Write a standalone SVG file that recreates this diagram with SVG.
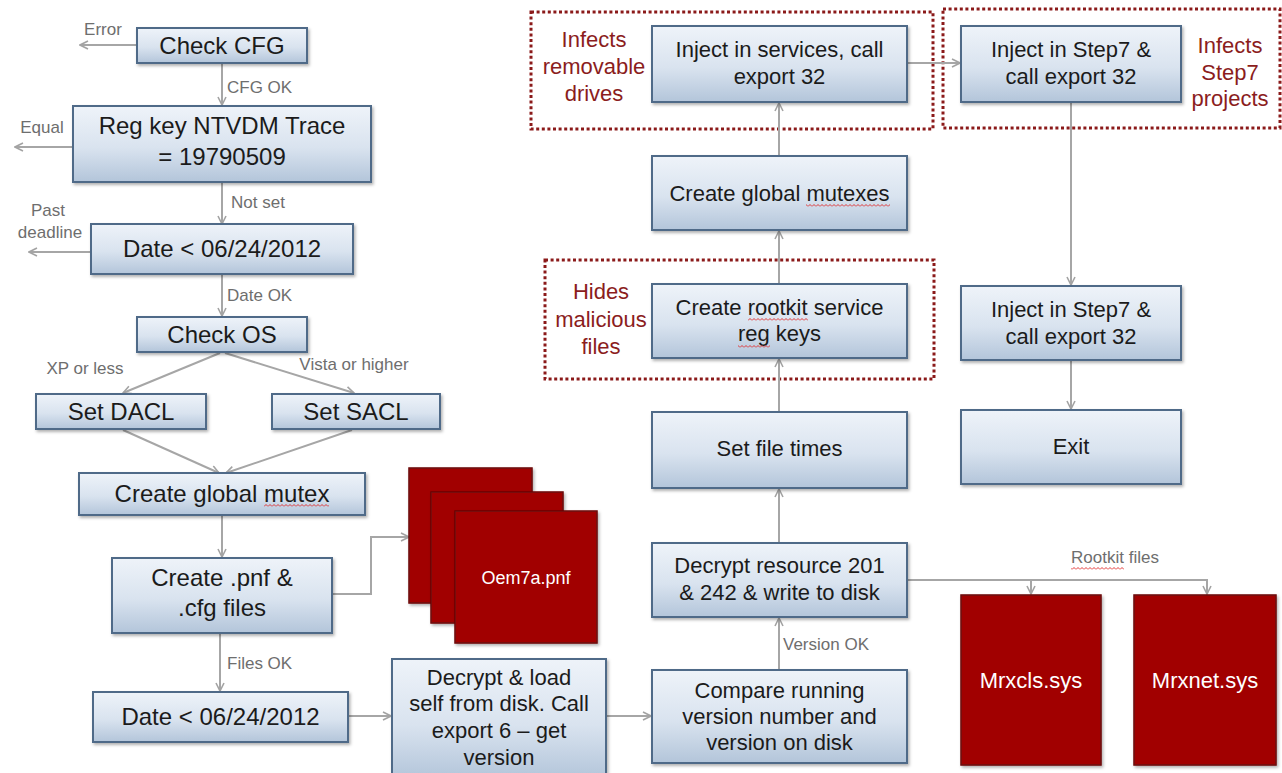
<svg xmlns="http://www.w3.org/2000/svg" width="1282" height="773" viewBox="0 0 1282 773">
<defs>
<linearGradient id="bg" x1="0" y1="0" x2="0" y2="1">
<stop offset="0" stop-color="#eef3f9"/>
<stop offset="0.55" stop-color="#d9e3ef"/>
<stop offset="1" stop-color="#b3c5da"/>
</linearGradient>
<filter id="sh" x="-10%" y="-10%" width="130%" height="140%">
<feDropShadow dx="1.5" dy="2" stdDeviation="1.5" flood-color="#000" flood-opacity="0.3"/>
</filter>
<marker id="arr" viewBox="0 0 10 10" refX="9" refY="5" markerWidth="10" markerHeight="10" markerUnits="userSpaceOnUse" orient="auto">
<path d="M1,1 L9,5 L1,9" fill="none" stroke="#a3a3a3" stroke-width="1.6"/>
</marker>
<pattern id="wavy" patternUnits="userSpaceOnUse" width="4" height="3">
<path d="M0,2.5 L2,0.5 L4,2.5" fill="none" stroke="#e02424" stroke-width="0.9"/>
</pattern>
<style>
.box{fill:url(#bg);stroke:#4f6a88;stroke-width:2;filter:url(#sh)}
.red{fill:#a10404;stroke:#6a0808;stroke-width:1.5;filter:url(#sh)}
.t{font-family:"Liberation Sans",Arial,sans-serif;fill:#1b1b1b;text-anchor:middle}
.l{font-size:24px}
.r{font-size:22px}
.w{font-family:"Liberation Sans",Arial,sans-serif;fill:#ffffff;text-anchor:middle}
.lab{font-family:"Liberation Sans",Arial,sans-serif;font-size:17px;fill:#6e6e6e}
.ann{font-family:"Liberation Sans",Arial,sans-serif;font-size:22px;fill:#8b1d1d;text-anchor:middle}
.dot{fill:none;stroke:#8b1a1a;stroke-width:3;stroke-dasharray:3 2.6}
.c{fill:none;stroke:#a6a6a6;stroke-width:2}
.a{marker-end:url(#arr)}
</style>
</defs>
<rect width="1282" height="773" fill="#ffffff"/>

<g id="groups">
<rect class="dot" x="531" y="12" width="402" height="117"/>
<rect class="dot" x="545" y="260" width="389" height="119"/>
<rect class="dot" x="943" y="9" width="337" height="119"/>
<text class="ann" x="594" y="47">Infects</text>
<text class="ann" x="594" y="74">removable</text>
<text class="ann" x="594" y="101">drives</text>
<text class="ann" x="601" y="299">Hides</text>
<text class="ann" x="601" y="327">malicious</text>
<text class="ann" x="601" y="354">files</text>
<text class="ann" x="1230" y="53">Infects</text>
<text class="ann" x="1230" y="80">Step7</text>
<text class="ann" x="1230" y="106">projects</text>
</g>

<g id="connectors">
<line class="c a" x1="137" y1="45" x2="80" y2="45"/>
<line class="c a" x1="222" y1="63" x2="222" y2="105"/>
<line class="c a" x1="73" y1="147" x2="15" y2="147"/>
<line class="c a" x1="222" y1="182" x2="222" y2="224"/>
<line class="c a" x1="91" y1="252" x2="29" y2="252"/>
<line class="c a" x1="222" y1="274" x2="222" y2="316"/>
<line class="c a" x1="220" y1="353" x2="123" y2="393"/>
<line class="c a" x1="225" y1="353" x2="354" y2="393"/>
<line class="c a" x1="123" y1="430" x2="219" y2="473"/>
<line class="c a" x1="352" y1="430" x2="226" y2="473"/>
<line class="c a" x1="222" y1="515" x2="222" y2="557"/>
<polyline class="c a" points="332,594 371,594 371,537 409,537"/>
<line class="c a" x1="220" y1="633" x2="220" y2="691"/>
<line class="c a" x1="348" y1="716" x2="391" y2="716"/>
<line class="c a" x1="606" y1="716" x2="651" y2="716"/>
<line class="c a" x1="779" y1="670" x2="779" y2="618"/>
<line class="c a" x1="779" y1="543" x2="779" y2="489"/>
<line class="c a" x1="779" y1="412" x2="779" y2="359"/>
<line class="c a" x1="779" y1="284" x2="779" y2="231"/>
<line class="c a" x1="779" y1="156" x2="779" y2="103"/>
<line class="c a" x1="907" y1="63" x2="960" y2="63"/>
<line class="c a" x1="1071" y1="102" x2="1071" y2="285"/>
<line class="c a" x1="1071" y1="360" x2="1071" y2="409"/>
<polyline class="c a" points="907,580 1207,580 1207,594"/>
<line class="c a" x1="1031" y1="580" x2="1031" y2="594"/>
<text class="lab" x="103" y="35" text-anchor="middle">Error</text>
<text class="lab" x="227" y="93">CFG OK</text>
<text class="lab" x="42" y="133" text-anchor="middle">Equal</text>
<text class="lab" x="231" y="208">Not set</text>
<text class="lab" x="48" y="216" text-anchor="middle">Past</text>
<text class="lab" x="50" y="238" text-anchor="middle">deadline</text>
<text class="lab" x="227" y="301">Date OK</text>
<text class="lab" x="85" y="374" text-anchor="middle">XP or less</text>
<text class="lab" x="354" y="370" text-anchor="middle">Vista or higher</text>
<text class="lab" x="227" y="669">Files OK</text>
<text class="lab" x="783" y="650">Version OK</text>
<text class="lab" x="1115" y="563" text-anchor="middle">Rootkit files</text>
<rect x="1071" y="567" width="53" height="3" fill="url(#wavy)"/>
</g>

<g id="check-cfg">
<rect class="box" x="137" y="28" width="170" height="35"/>
<text class="t l" x="222" y="54">Check CFG</text>
</g>
<g id="reg-key">
<rect class="box" x="73" y="106" width="298" height="76"/>
<text class="t l" x="222" y="134">Reg key NTVDM Trace</text>
<text class="t l" x="222" y="165">= 19790509</text>
</g>
<g id="date-check-1">
<rect class="box" x="91" y="224" width="262" height="50"/>
<text class="t l" x="222" y="257">Date &lt; 06/24/2012</text>
</g>
<g id="check-os">
<rect class="box" x="137" y="317" width="170" height="35"/>
<text class="t l" x="222" y="343">Check OS</text>
</g>
<g id="set-dacl">
<rect class="box" x="36" y="394" width="170" height="35"/>
<text class="t l" x="121" y="420">Set DACL</text>
</g>
<g id="set-sacl">
<rect class="box" x="272" y="394" width="168" height="35"/>
<text class="t l" x="356" y="420">Set SACL</text>
</g>
<g id="create-global-mutex">
<rect class="box" x="79" y="473" width="286" height="42"/>
<text class="t l" x="222" y="502">Create global mutex</text>
<rect x="264" y="504" width="65" height="3" fill="url(#wavy)"/>
</g>
<g id="create-pnf">
<rect class="box" x="112" y="558" width="220" height="75"/>
<text class="t l" x="222" y="586">Create .pnf &amp;</text>
<text class="t l" x="222" y="616">.cfg files</text>
</g>
<g id="oem7a">
<rect class="red" x="409" y="468" width="123" height="135"/>
<rect class="red" x="431" y="492" width="132" height="131"/>
<rect class="red" x="455" y="511" width="142" height="132"/>
<text class="w" x="526" y="584" font-size="18">Oem7a.pnf</text>
</g>
<g id="date-check-2">
<rect class="box" x="93" y="692" width="255" height="50"/>
<text class="t l" x="220.5" y="725">Date &lt; 06/24/2012</text>
</g>
<g id="decrypt-load">
<rect class="box" x="392" y="659" width="214" height="120"/>
<text class="t r" x="499" y="685">Decrypt &amp; load</text>
<text class="t r" x="499" y="711">self from disk. Call</text>
<text class="t r" x="499" y="738">export 6 – get</text>
<text class="t r" x="499" y="765">version</text>
</g>
<g id="compare-version">
<rect class="box" x="652" y="670" width="255" height="93"/>
<text class="t r" x="779.5" y="698">Compare running</text>
<text class="t r" x="779.5" y="724">version number and</text>
<text class="t r" x="779.5" y="750">version on disk</text>
</g>
<g id="decrypt-resource">
<rect class="box" x="652" y="543" width="255" height="74"/>
<text class="t r" x="779.5" y="573">Decrypt resource 201</text>
<text class="t r" x="779.5" y="600">&amp; 242 &amp; write to disk</text>
</g>
<g id="set-file-times">
<rect class="box" x="652" y="412" width="255" height="76"/>
<text class="t r" x="779.5" y="456">Set file times</text>
</g>
<g id="create-rootkit">
<rect class="box" x="652" y="284" width="255" height="74"/>
<text class="t r" x="779.5" y="315">Create rootkit service</text>
<text class="t r" x="779.5" y="341">reg keys</text>
<rect x="748" y="318" width="60" height="3" fill="url(#wavy)"/>
<rect x="738" y="345" width="32" height="3" fill="url(#wavy)"/>
</g>
<g id="create-global-mutexes">
<rect class="box" x="652" y="156" width="255" height="74"/>
<text class="t r" x="779.5" y="201">Create global mutexes</text>
<rect x="806" y="204" width="84" height="3" fill="url(#wavy)"/>
</g>
<g id="inject-services">
<rect class="box" x="652" y="26" width="255" height="76"/>
<text class="t r" x="779.5" y="57">Inject in services, call</text>
<text class="t r" x="779.5" y="84">export 32</text>
</g>
<g id="inject-step7-1">
<rect class="box" x="961" y="26" width="220" height="76"/>
<text class="t r" x="1071" y="57">Inject in Step7 &amp;</text>
<text class="t r" x="1071" y="84">call export 32</text>
</g>
<g id="inject-step7-2">
<rect class="box" x="961" y="286" width="220" height="74"/>
<text class="t r" x="1071" y="317">Inject in Step7 &amp;</text>
<text class="t r" x="1071" y="344">call export 32</text>
</g>
<g id="exit">
<rect class="box" x="961" y="410" width="220" height="74"/>
<text class="t r" x="1071" y="454">Exit</text>
</g>
<g id="mrxcls">
<rect class="red" x="961" y="595" width="140" height="170"/>
<text class="w" x="1031" y="688" font-size="22">Mrxcls.sys</text>
</g>
<g id="mrxnet">
<rect class="red" x="1134" y="595" width="142" height="170"/>
<text class="w" x="1205" y="688" font-size="22">Mrxnet.sys</text>
</g>
</svg>
